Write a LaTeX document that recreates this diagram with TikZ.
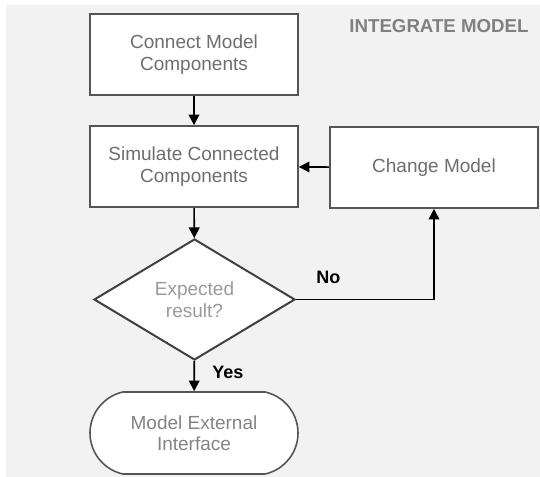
\documentclass[tikz,border=0pt]{standalone}
\usepackage{fontspec}
\setmainfont{Liberation Sans}
\usetikzlibrary{positioning,shapes,arrows.meta}
\usepackage{xcolor}
\definecolor{fond}{HTML}{F2F2F2}
\definecolor{bord}{HTML}{555555}
\definecolor{txt}{HTML}{6E6E6E}
\definecolor{titre}{HTML}{808080}

\begin{document}
\begin{tikzpicture}[x=0.75pt,y=-0.75pt,
    f/.style={-{Triangle[length=8pt,width=8pt]},line width=1.2pt},%
    b/.style={draw=bord,line width=1.2pt,fill=white,minimum width=156pt,minimum height=60.75pt,inner sep=0pt,align=center,text=txt,font=\fontsize{14.25}{16.1}\selectfont},%
    d/.style={b,diamond,draw=black!75,line width=1.5pt,aspect=1.66,minimum width=150.75pt,minimum height=90.75pt,text=txt!70},%
    t/.style={b,rounded rectangle,rounded rectangle arc length=155,minimum height=61.5pt,text=txt!85},%
    p/.style={inner sep=0pt,font=\bfseries\fontsize{13.5}{16}\selectfont}]
    \useasboundingbox (0,0) rectangle (540,477);
    \fill[fond] (6,5) rectangle (540,477);
    \node[p,text=titre,font=\bfseries\fontsize{14}{16}\selectfont] (titre) at (439,26.5) {INTEGRATE MODEL};

    \node[b] (connect) at (194,54.5) {Connect Model\\Components};
    \node[b] (simul) at (194,166.5) {Simulate Connected\\Components};
    \node[b] (change) at (434,167.5) {Change Model};
    \node[d] (test) at (194.5,299.5) {Expected\\result?};
    \node[t] (iface) at (194,433) {Model External\\Interface};

    \draw[f] (connect) -- (simul);
    \draw[f] (simul) -- (test);
    \draw[f] (change) -- (simul);
    \draw[f] (test) -- (iface) node[p,pos=0.39,right=13pt]{Yes};
    \draw[f] (test.east) -| (change.south) node[p,pos=0.117,above=11pt]{No};
\end{tikzpicture}
\end{document}
